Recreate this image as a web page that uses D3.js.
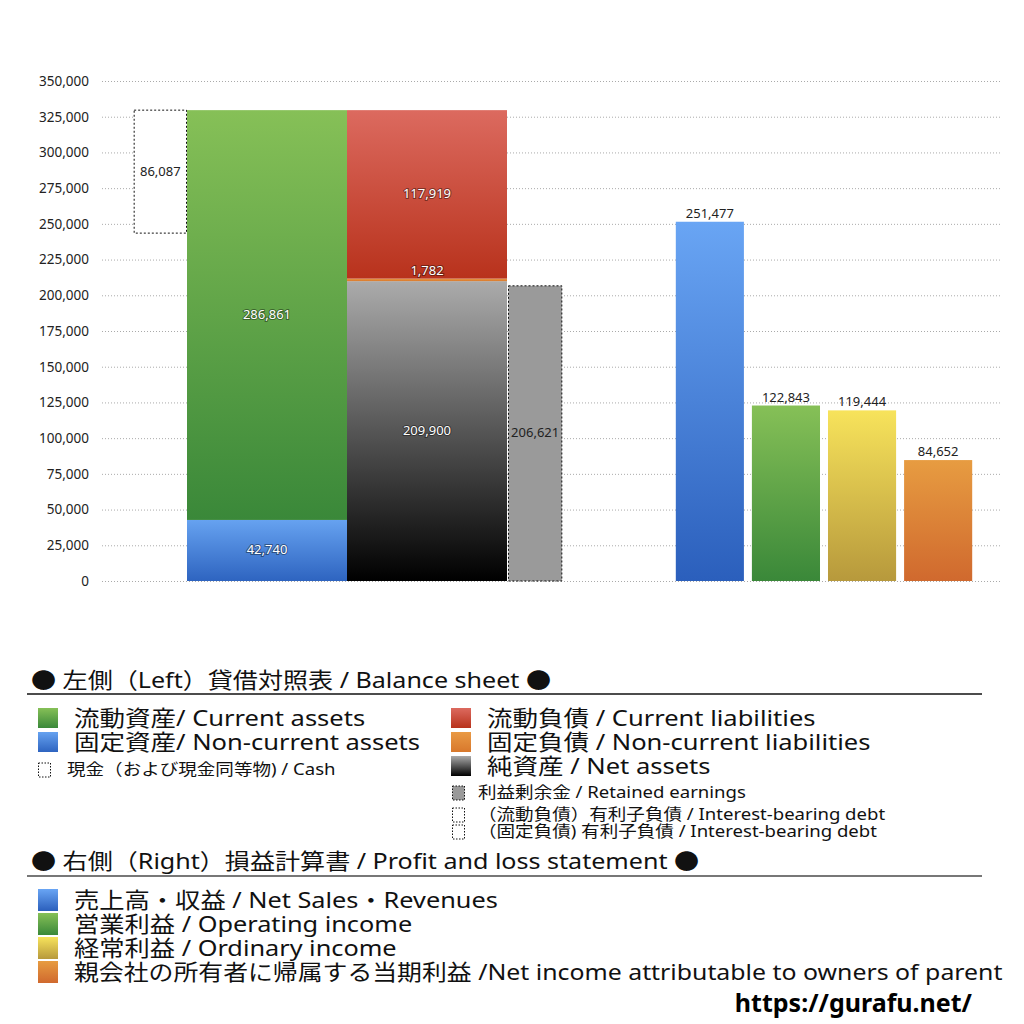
<!DOCTYPE html>
<html>
<head>
<meta charset="UTF-8">
<title>Balance sheet / P&L</title>
<style>
  html, body { margin: 0; background: #fff; }
  svg { display: block; }
  text { font-family: "Noto Sans", "Noto Sans CJK JP", sans-serif; }
</style>
</head>
<body>
<div id="chart"></div>
<script src="https://cdn.jsdelivr.net/npm/d3@7"></script>
<script>
// ---- data ----
var yTickValues = [0, 25000, 50000, 75000, 100000, 125000, 150000, 175000, 200000, 225000, 250000, 275000, 300000, 325000, 350000];
var bsColumns = ["assets", "liabilities"];
var assetKeys = ["固定資産", "流動資産"];
var assetValues = [42740, 286861];
var liabKeys = ["純資産", "固定負債", "流動負債"];
var liabValues = [209900, 1782, 117919];
var cashValue = 86087;
var retainedValue = 206621;
var plCategories = ["売上高・収益", "営業利益", "経常利益", "親会社の所有者に帰属する当期利益"];
var plValues = [251477, 122843, 119444, 84652];

var W = 1024, H = 1024;
var plot = { left: 102, right: 1000, top: 81, bottom: 581 };
var fmt = d3.format(",");

var svg = d3.select('#chart').append('svg').attr('width', W).attr('height', H);

// gradients
var defs = svg.append('defs');
function grad(id, top, bottom) {
  var g = defs.append('linearGradient').attr('id', id)
    .attr('x1', 0).attr('y1', 0).attr('x2', 0).attr('y2', 1);
  g.append('stop').attr('offset', '0%').attr('stop-color', top);
  g.append('stop').attr('offset', '100%').attr('stop-color', bottom);
}
grad('gGreen', '#86c057', '#3a8839');
grad('gBlue', '#66a2f0', '#2e64c0');
grad('gRed', '#dc6a5f', '#b8321c');
grad('gOrange', '#e99a45', '#d8782c');
grad('gNet', '#ababab', '#000000');
grad('gPlBlue', '#69a5f4', '#2b5fbc');
grad('gPlYellow', '#f7e35b', '#b7993c');
grad('gPlOrange', '#e79c41', '#d0692e');

var assetFills = ['url(#gBlue)', 'url(#gGreen)'];
var liabFills = ['url(#gNet)', 'url(#gOrange)', 'url(#gRed)'];
var plFills = ['url(#gPlBlue)', 'url(#gGreen)', 'url(#gPlYellow)', 'url(#gPlOrange)'];

// scales
var y = d3.scaleLinear().domain([0, 350000]).range([plot.bottom, plot.top]);
var xBs = d3.scaleBand().domain(bsColumns).range([187, 507]).padding(0);
var sideW = xBs.bandwidth() / 3;
var xPl = d3.scaleBand().domain(plCategories).range([672, 976]).paddingInner(0.105).paddingOuter(0.05);

// grid + axis
var axis = svg.append('g')
  .attr('transform', 'translate(' + plot.left + ',0)')
  .call(d3.axisLeft(y).tickValues(yTickValues).tickFormat(fmt)
    .tickSize(-(plot.right - plot.left)).tickPadding(13));
axis.select('.domain').remove();
axis.selectAll('.tick line')
  .attr('stroke', '#aaa').attr('stroke-dasharray', '1,2');
axis.selectAll('.tick text')
  .attr('fill', '#222').style('font-size', '13.5px')
  .style('font-family', '"Noto Sans", sans-serif');

// stacked columns
function stackCol(col, keys, values, fills) {
  var ends = d3.cumsum(values);
  return keys.map(function (k, i) {
    return { col: col, key: k, value: values[i], y0: ends[i] - values[i], y1: ends[i], fill: fills[i] };
  });
}
var bsData = stackCol('assets', assetKeys, assetValues, assetFills)
  .concat(stackCol('liabilities', liabKeys, liabValues, liabFills));

svg.append('g').selectAll('rect')
  .data(bsData).enter().append('rect')
  .attr('x', function (d) { return xBs(d.col); })
  .attr('width', xBs.bandwidth())
  .attr('y', function (d) { return y(d.y1); })
  .attr('height', function (d) { return y(d.y0) - y(d.y1); })
  .attr('fill', function (d) { return d.fill; });

var totalAssets = d3.sum(assetValues);

// cash (dashed box hanging from total assets)
svg.append('rect')
  .attr('x', xBs('assets') - sideW + 0.5)
  .attr('width', sideW - 1)
  .attr('y', y(totalAssets))
  .attr('height', y(totalAssets - cashValue) - y(totalAssets))
  .attr('fill', '#fff').attr('stroke', '#111').attr('stroke-width', 1)
  .attr('stroke-dasharray', '2,2');

// retained earnings
svg.append('rect')
  .attr('x', xBs('liabilities') + xBs.bandwidth() + 1.5)
  .attr('width', sideW)
  .attr('y', y(retainedValue))
  .attr('height', y(0) - y(retainedValue))
  .attr('fill', '#9a9a9a').attr('stroke', '#111').attr('stroke-width', 1)
  .attr('stroke-dasharray', '2,2');

// labels on stacked bars
var lbl = svg.append('g').style('font-size', '13px').attr('text-anchor', 'middle');
lbl.selectAll('text.in')
  .data(bsData).enter().append('text').attr('class', 'in')
  .attr('x', function (d) { return xBs(d.col) + xBs.bandwidth() / 2; })
  .attr('y', function (d) {
    if (d.value < 10000) return y(d.y1) - 4;
    return (y(d.y0) + y(d.y1)) / 2 + 4;
  })
  .attr('fill', '#fff')
  .attr('stroke', 'rgba(0,0,0,0.4)').attr('stroke-width', 2).attr('paint-order', 'stroke')
  .text(function (d) { return fmt(d.value); });

lbl.append('text')
  .attr('x', xBs('assets') - sideW / 2)
  .attr('y', (y(totalAssets) + y(totalAssets - cashValue)) / 2 + 4)
  .attr('fill', '#222').text(fmt(cashValue));
lbl.append('text')
  .attr('x', xBs('liabilities') + xBs.bandwidth() + 1.5 + sideW / 2)
  .attr('y', (y(retainedValue) + y(0)) / 2 + 4)
  .attr('fill', '#222').text(fmt(retainedValue));

// P&L bars
svg.append('g').selectAll('rect')
  .data(plValues).enter().append('rect')
  .attr('x', function (d, i) { return xPl(plCategories[i]); })
  .attr('width', xPl.bandwidth())
  .attr('y', function (d) { return y(d); })
  .attr('height', function (d) { return y(0) - y(d); })
  .attr('fill', function (d, i) { return plFills[i]; });
lbl.selectAll('text.pl')
  .data(plValues).enter().append('text').attr('class', 'pl')
  .attr('x', function (d, i) { return xPl(plCategories[i]) + xPl.bandwidth() / 2; })
  .attr('y', function (d) { return y(d) - 4; })
  .attr('fill', '#222').style('font-size', '13px')
  .text(function (d) { return fmt(d); });

// ---- legend ----
// legend type is stretched sideways a little, like the original's wide glyphs
var leg = svg.append('g');
function wideText(x, yy, size, sx, text) {
  return leg.append('text')
    .attr('transform', 'translate(' + x + ',' + yy + ') scale(' + sx + ',1)')
    .style('font-size', size + 'px').attr('fill', '#111').text(text);
}
function heading(text, yy, lineY, lineColor, lineW) {
  wideText(31, yy, 22, 1.14, text);
  leg.append('line').attr('x1', 27).attr('x2', 982).attr('y1', lineY).attr('y2', lineY)
    .attr('stroke', lineColor).attr('stroke-width', lineW);
}
function bigItem(x, cy, fill, text, swH, sx) {
  leg.append('rect').attr('x', x).attr('y', cy - swH / 2).attr('width', 20).attr('height', swH).attr('fill', fill);
  wideText(x + 36, cy + 8, 22, sx || 1.16, text);
}
function smallItem(x, cy, fill, text, tx) {
  leg.append('rect').attr('x', x + 0.5).attr('y', cy - 7).attr('width', 12).attr('height', 14)
    .attr('fill', fill).attr('stroke', '#111').attr('stroke-width', 1).attr('stroke-dasharray', '1.5,1.5');
  wideText(x + tx, cy + 5, 16, 1.16, text);
}

heading('● 左側（Left）貸借対照表 / Balance sheet ●', 688, 694, '#111', 1.5);
bigItem(38, 718, 'url(#gGreen)', '流動資産/ Current assets', 20);
bigItem(38, 742, 'url(#gBlue)', '固定資産/ Non-current assets', 20);
smallItem(38, 770, '#fff', '現金（および現金同等物) / Cash', 29);
bigItem(451, 718, 'url(#gRed)', '流動負債 /  Current liabilities', 20);
bigItem(451, 742, 'url(#gOrange)', '固定負債 / Non-current liabilities', 20);
bigItem(451, 766, 'url(#gNet)', '純資産 / Net assets', 20);
smallItem(452, 793, '#9a9a9a', '利益剰余金 / Retained earnings', 26);
smallItem(452, 815, '#fff', '（流動負債）有利子負債 / Interest-bearing debt', 26);
smallItem(452, 832, '#fff', '（固定負債) 有利子負債 / Interest-bearing debt', 26);

heading('● 右側（Right）損益計算書 / Profit and loss statement ●', 869, 876, '#777', 2);
var plLegend = [
  '売上高・収益 / Net Sales・Revenues',
  '営業利益 / Operating income',
  '経常利益 / Ordinary income',
  '親会社の所有者に帰属する当期利益 /Net income attributable to owners of parent'
];
plLegend.forEach(function (t, i) { bigItem(38, 900 + i * 24, plFills[i], t, 22, i === 3 ? 1.13 : 1.15); });

svg.append('text').attr('x', 972).attr('y', 1012).attr('text-anchor', 'end')
  .style('font-size', '25px').style('font-weight', 'bold')
  .attr('fill', '#000')
  .text('https://gurafu.net/');
</script>
</body>
</html>
